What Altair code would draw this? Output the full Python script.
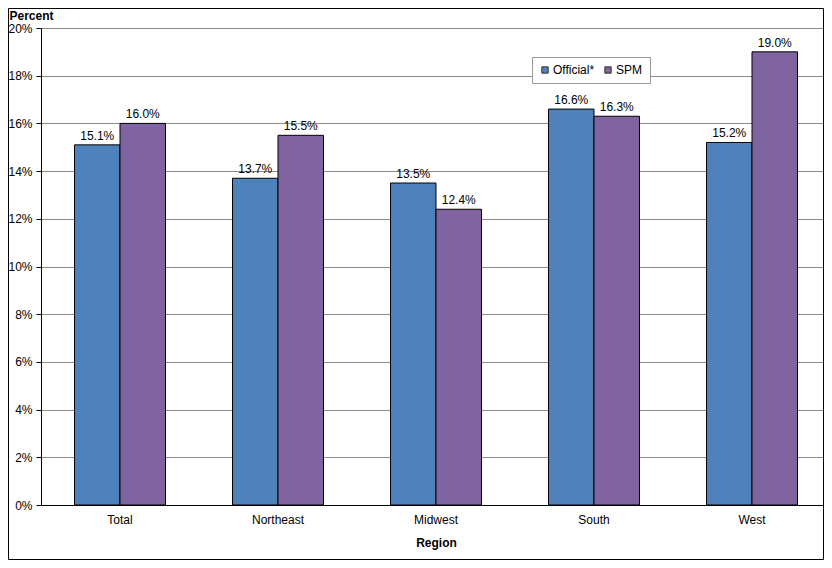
import altair as alt
import pandas as pd

regions = ["Total", "Northeast", "Midwest", "South", "West"]
official = [15.1, 13.7, 13.5, 16.6, 15.2]
spm = [16.0, 15.5, 12.4, 16.3, 19.0]
series = ["Official*", "SPM"]
colors = ["#4F81BD", "#8064A2"]
y_ticks = [0, 2, 4, 6, 8, 10, 12, 14, 16, 18, 20]

rows = []
for i, r in enumerate(regions):
    rows.append({"Region": r, "Measure": series[0], "Value": official[i]})
    rows.append({"Region": r, "Measure": series[1], "Value": spm[i]})
df = pd.DataFrame(rows)

W, H = 783, 477
PAD_L, PAD_T, PAD_R, PAD_B = 33, 20, 0, 55
FONT = "Liberation Sans"

x_enc = alt.X("Region:N", sort=regions,
              scale=alt.Scale(paddingInner=0.424, paddingOuter=0.212, range=[0, 790]),
              axis=alt.Axis(title="Region", labelAngle=0, ticks=False, domain=True,
                            domainColor="black", labelFontSize=12, labelPadding=9,
                            labelColor="black", titleFontSize=12, titleFontWeight="bold",
                            titlePadding=12, titleColor="black", labelFont=FONT, titleFont=FONT,
                            titleX=395))
xo_enc = alt.XOffset("Measure:N", sort=series, scale=alt.Scale(paddingInner=0, paddingOuter=0))
y_enc = alt.Y("Value:Q", scale=alt.Scale(domain=[0, 20], nice=False),
              axis=alt.Axis(values=y_ticks, labelExpr="datum.value + '%'",
                            title="Percent", titleAngle=0, titleX=-32, titleY=-9,
                            titleAlign="left", titleBaseline="alphabetic",
                            titleFontSize=12, titleFontWeight="bold", titleColor="black",
                            titleFont=FONT, labelFont=FONT,
                            labelFontSize=12, labelColor="black", labelPadding=4,
                            tickSize=5, tickColor="black", domainColor="black",
                            grid=True, gridColor="#8c8c8c", gridWidth=1))

bars = alt.Chart(df).mark_bar(stroke="black", strokeWidth=1).encode(
    x=x_enc,
    xOffset=xo_enc,
    y=y_enc,
    color=alt.Color("Measure:N", sort=series,
                    scale=alt.Scale(domain=series, range=colors),
                    legend=alt.Legend(title=None, orient="none", legendX=491, legendY=29,
                                      direction="horizontal", symbolType="square",
                                      symbolSize=40, symbolStrokeColor="#333333",
                                      symbolStrokeWidth=1, labelFontSize=12,
                                      labelFont=FONT, labelColor="black",
                                      labelOffset=2, columnPadding=7, padding=7,
                                      strokeColor="#999999", fillColor="white")),
)

labels = alt.Chart(df).transform_calculate(
    lbl="format(datum.Value, '.1f') + '%'"
).mark_text(dy=-9, fontSize=12, font=FONT, color="black").encode(
    x=alt.X("Region:N", sort=regions),
    xOffset=alt.XOffset("Measure:N", sort=series),
    y="Value:Q",
    text="lbl:N",
)

frame = alt.Chart(pd.DataFrame({"k": [0]})).mark_rect(
    fill=None, stroke="black", strokeWidth=1
).encode(
    x=alt.value(-PAD_L + 0.5), x2=alt.value(W - 0.5),
    y=alt.value(-PAD_T + 0.5), y2=alt.value(H + PAD_B - 0.5),
)

chart = alt.layer(frame, bars, labels).properties(
    width=W, height=H,
    padding={"left": PAD_L, "top": PAD_T, "right": PAD_R, "bottom": PAD_B},
    autosize=alt.AutoSizeParams(type="none"),
).configure_view(stroke=None).configure(background="white")

chart.save("out.html", embed_options={"renderer": "svg", "actions": False})
